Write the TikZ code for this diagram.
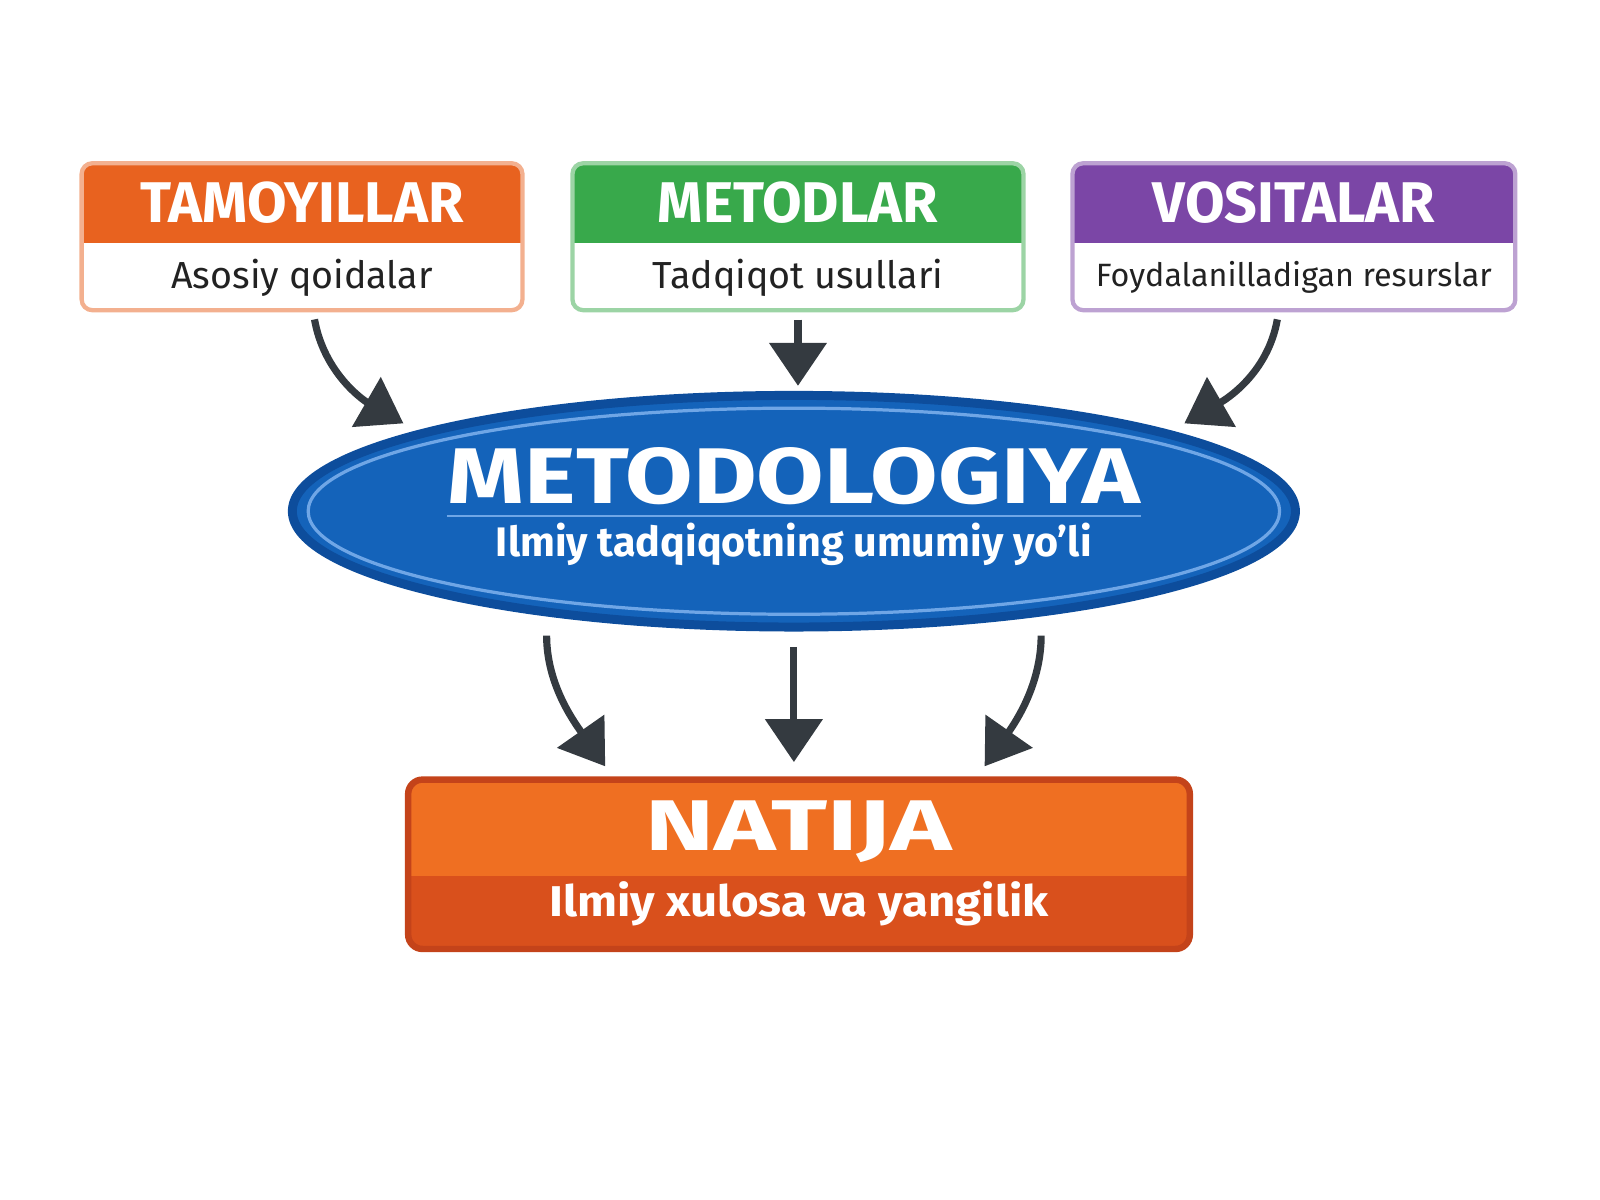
\documentclass[tikz,border=0pt]{standalone}
\usepackage{fontspec}
\setmainfont{Fira Sans}
\usetikzlibrary{positioning,shapes.geometric,arrows.meta}

\definecolor{tamcol}{HTML}{E8621F}
\definecolor{metcol}{HTML}{38A94B}
\definecolor{voscol}{HTML}{7B46A6}
\definecolor{blueA}{HTML}{1463BA}
\definecolor{blueB}{HTML}{0D4D9C}
\definecolor{blueC}{HTML}{6FA6E6}
\definecolor{natup}{HTML}{EF6F22}
\definecolor{natdn}{HTML}{D9501C}
\definecolor{natbd}{HTML}{C4431A}
\definecolor{arrcol}{HTML}{343A40}
\definecolor{txtcol}{HTML}{222222}

\begin{document}
\begin{tikzpicture}
      \tikzset{hbox/.style={rectangle, rounded corners=3pt, fill=white, draw=#1!50, line width=1.2pt,
          minimum height=1.44cm, inner sep=0pt,
          path picture={\fill[#1, sharp corners] (path picture bounding box.north west) rectangle ([yshift=-0.78cm]path picture bounding box.north east);}}}
      \tikzstyle{htitle} = [text=white, font=\fontsize{16}{18}\selectfont\bfseries, inner sep=0pt]
      \tikzstyle{hsub} = [text=txtcol, font=\fontsize{10.5}{12}\selectfont, inner sep=0pt]
      \tikzstyle{arr} = [-{Triangle[length=0.42cm,width=0.55cm]}, line width=2pt, draw=arrcol, fill=none]

      \useasboundingbox (0,0) rectangle (15.68,-11.76);

      %%%%%%%%%%%%%%%%%%%%%%%%%%%%%%
      %% The three input boxes
      %%%%%%%%%%%%%%%%%%%%%%%%%%%%%%
      \node[hbox=tamcol, minimum width=4.32cm] (tam) at (2.96,-2.32) {};
      \node[hbox=metcol, minimum width=4.42cm] (met) at (7.82,-2.32) {};
      \node[hbox=voscol, minimum width=4.34cm] (vos) at (12.68,-2.32) {};

      \node[htitle] (tamt) at ([yshift=-0.41cm]tam.north) {TAMOYILLAR};
      \node[htitle] (mett) at ([yshift=-0.41cm]met.north) {METODLAR};
      \node[htitle] (vost) at ([yshift=-0.41cm]vos.north) {VOSITALAR};

      \node[hsub] (tams) at ([yshift=0.34cm]tam.south) {Asosiy qoidalar};
      \node[hsub] (mets) at ([yshift=0.34cm]met.south) {Tadqiqot usullari};
      \node[hsub, font=\fontsize{9}{11}\selectfont] (voss) at ([yshift=0.34cm]vos.south) {Foydalanilladigan resurslar};

      %%%%%%%%%%%%%%%%%%%%%%%%%%%%%%
      %% The central ellipse
      %%%%%%%%%%%%%%%%%%%%%%%%%%%%%%
      \node[ellipse, fill=blueA, draw=blueB, line width=2.5pt, minimum width=9.83cm, minimum height=2.27cm, inner sep=0pt] (meto) at (7.78,-5.01) {};
      \node[ellipse, draw=blueC, line width=0.9pt, minimum width=9.52cm, minimum height=2.02cm, inner sep=0pt] (ring) at (meto.center) {};
      \draw[blueC, line width=0.6pt] ([xshift=-3.4cm,yshift=-0.05cm]meto.center) -- ([xshift=3.4cm,yshift=-0.05cm]meto.center);
      \node[text=white, font=\fontsize{22}{24}\selectfont\bfseries, inner sep=0pt] (metot) at (7.78,-4.67) {\scalebox{1.24}[1]{METODOLOGIYA}};
      \node[text=white, font=\fontsize{11.5}{13}\selectfont\bfseries, inner sep=0pt] (metos) at (7.78,-5.33) {Ilmiy tadqiqotning umumiy yo’li};

      %%%%%%%%%%%%%%%%%%%%%%%%%%%%%%
      %% The result box
      %%%%%%%%%%%%%%%%%%%%%%%%%%%%%%
      \node[rectangle, rounded corners=4pt, fill=natup, draw=natbd, line width=1.8pt,
            minimum width=7.66cm, minimum height=1.66cm, inner sep=0pt,
            path picture={\fill[natdn, sharp corners] (path picture bounding box.south west) rectangle ([yshift=0.72cm]path picture bounding box.south east);}] (nat) at (7.83,-8.47) {};
      \node[text=white, font=\fontsize{20}{24}\selectfont\bfseries, inner sep=0pt] (natt) at ([yshift=0.32cm]nat.center) {\scalebox{1.45}[1]{NATIJA}};
      \node[text=white, font=\fontsize{12}{14}\selectfont\bfseries, inner sep=0pt] (nats) at ([yshift=-0.39cm]nat.center) {\scalebox{1.1}[1]{Ilmiy xulosa va yangilik}};

      % inputs to methodology
      \draw[arr, shorten <=2pt, shorten >=0.15cm] ([xshift=0.11cm]tam.south) to[out=-80, in=150] (meto.168);
      \draw[arr, shorten <=2pt, shorten >=0.05cm] (met.south) -- (met.south |- meto.north);
      \draw[arr, shorten <=2pt, shorten >=0.15cm] ([xshift=-0.15cm]vos.south) to[out=-100, in=30] (meto.12);

      % methodology to result
      \draw[arr, shorten <=0.19cm, shorten >=0.12cm] (meto.-157) to[out=-90, in=125] ([xshift=-1.83cm]nat.north);
      \draw[arr, shorten <=0.15cm, shorten >=0.14cm] (meto.south) -- (meto.south |- nat.north);
      \draw[arr, shorten <=0.19cm, shorten >=0.12cm] (meto.-23) to[out=-90, in=55] ([xshift=1.75cm]nat.north);
\end{tikzpicture}
\end{document}
